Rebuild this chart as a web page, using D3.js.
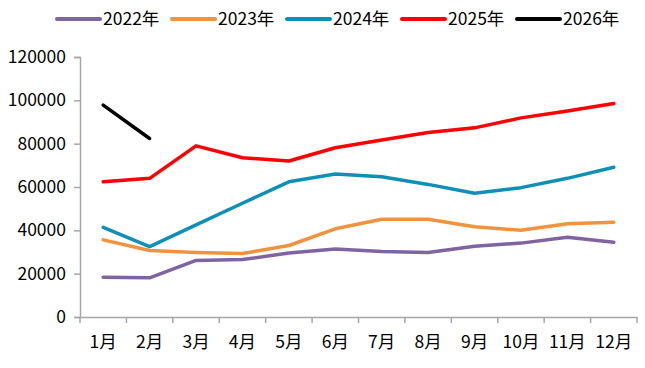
<!DOCTYPE html>
<html>
<head>
<meta charset="utf-8">
<script src="https://cdn.jsdelivr.net/npm/d3@7"></script>
<style>
  body { margin: 0; background: #fff; }
  text { font-family: "Noto Sans CJK SC", "Noto Sans", sans-serif; fill: #000; }
</style>
</head>
<body>
<div id="viz"></div>
<script>
const width = 645;
const height = 368;
const margin = {top: 57, right: 8, bottom: 51, left: 80};

// data
const months = ['1月','2月','3月','4月','5月','6月','7月','8月','9月','10月','11月','12月'];
const years = ['2022年','2023年','2024年','2025年','2026年'];
const colors = ['#8064A2', '#F0923E', '#0E90B6', '#FF0000', '#000000'];
const v2022 = [18400, 18100, 26100, 26500, 29500, 31400, 30200, 29800, 32700, 34100, 36800, 34500];
const v2023 = [35600, 30700, 29800, 29300, 33000, 40700, 45100, 45100, 41700, 40000, 43000, 43700];
const v2024 = [41400, 32500, 42500, 52500, 62400, 66000, 64700, 61200, 57100, 59700, 64000, 69100];
const v2025 = [62400, 64000, 79000, 73500, 72000, 78100, 81700, 85200, 87300, 91900, 95100, 98500];
const v2026 = [97800, 82400];
const yTicks = [0, 20000, 40000, 60000, 80000, 100000, 120000];

const series = [v2022, v2023, v2024, v2025, v2026];

const svg = d3.select('#viz')
  .append('svg')
    .attr('width', width)
    .attr('height', height);

const x = d3.scaleBand()
  .domain(months)
  .range([margin.left, width - margin.right]);

const y = d3.scaleLinear()
  .domain([0, 120000])
  .range([height - margin.bottom, margin.top]);

// y axis
const yAxis = svg.append('g')
  .attr('transform', `translate(${margin.left},0)`)
  .call(d3.axisLeft(y).tickValues(yTicks).tickFormat(d3.format('d')).tickSizeOuter(0).tickSize(6).tickPadding(8));

// x axis, ticks on band edges like excel
const xAxis = svg.append('g')
  .attr('transform', `translate(0,${height - margin.bottom})`)
  .call(d3.axisBottom(x).tickSize(0).tickSizeOuter(0).tickPadding(19));

xAxis.selectAll('.edge')
  .data(d3.range(months.length + 1))
  .join('line')
    .attr('class', 'edge')
    .attr('x1', i => margin.left + i * x.step())
    .attr('x2', i => margin.left + i * x.step())
    .attr('y1', 0)
    .attr('y2', 6)
    .attr('stroke', '#A6A6A6')
    .attr('stroke-width', 1.5);

[yAxis, xAxis].forEach(ax => {
  ax.select('.domain').attr('stroke', '#A6A6A6').attr('stroke-width', 1.5);
  ax.selectAll('.tick line').attr('stroke', '#A6A6A6').attr('stroke-width', 1.5);
  ax.selectAll('text').style('font-size', '17.5px').attr('fill', '#000');
});

// lines
const line = d3.line()
  .x((d, i) => x(months[i]) + x.bandwidth() / 2)
  .y(d => y(d));

svg.append('g')
  .selectAll('path')
  .data(series)
  .join('path')
    .attr('d', line)
    .attr('fill', 'none')
    .attr('stroke', (d, i) => colors[i])
    .attr('stroke-width', 3.5)
    .attr('stroke-linejoin', 'round')
    .attr('stroke-linecap', 'round');

// legend
const legendX = [57, 172, 287, 402, 517];
const legend = svg.append('g')
  .selectAll('g')
  .data(years)
  .join('g')
    .attr('transform', (d, i) => `translate(${legendX[i]},19)`);

legend.append('line')
  .attr('x1', 0)
  .attr('x2', 43)
  .attr('stroke', (d, i) => colors[i])
  .attr('stroke-width', 4)
  .attr('stroke-linecap', 'round');

legend.append('text')
  .attr('x', 46)
  .attr('dy', '0.35em')
  .style('font-size', '17.5px')
  .text(d => d);
</script>
</body>
</html>
